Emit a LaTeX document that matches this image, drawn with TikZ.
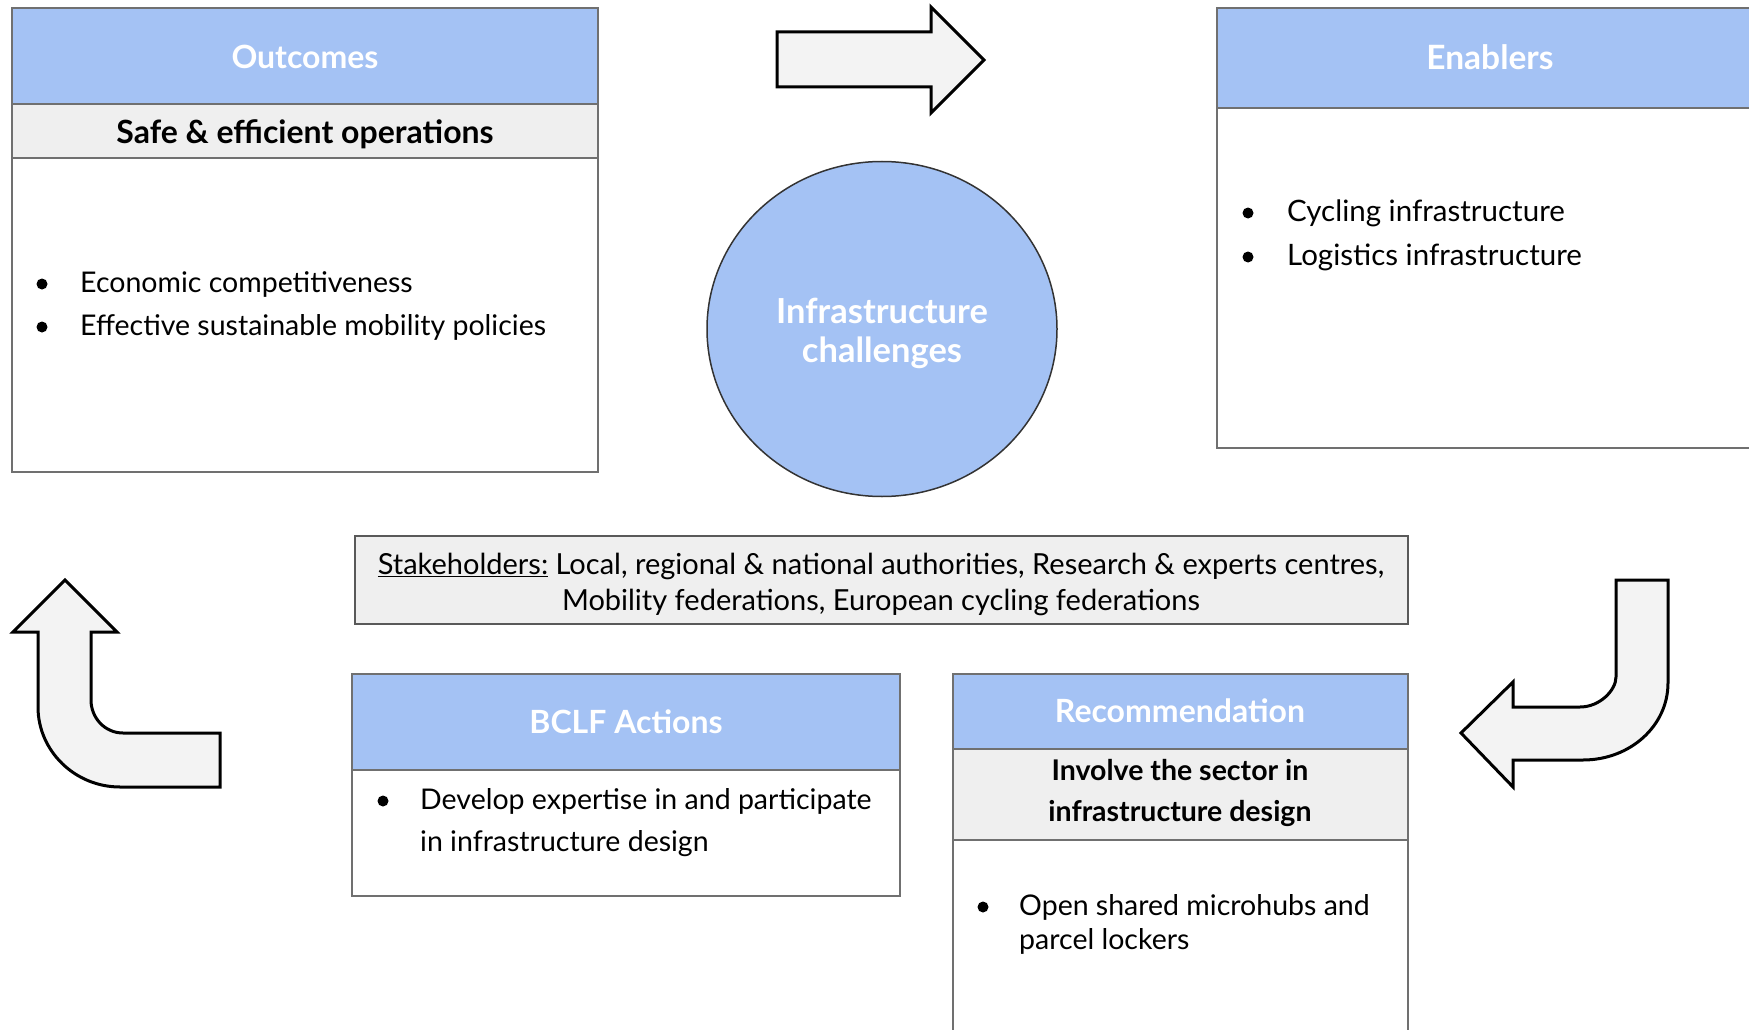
\documentclass[tikz,border=0pt]{standalone}
\usepackage{fontspec}
\setmainfont{Lato}
\usetikzlibrary{shapes.geometric}
\definecolor{hdrblue}{HTML}{A4C2F4}
\definecolor{subgrey}{HTML}{EFEFEF}
\definecolor{arrowfill}{HTML}{F3F3F3}
\definecolor{boxline}{HTML}{707070}
\begin{document}
\begin{tikzpicture}[x=1pt,y=-1pt,
  box/.style={draw=boxline, line width=2pt, fill=white},
  hdr/.style={draw=boxline, line width=2pt, fill=hdrblue},
  sub/.style={draw=boxline, line width=2pt, fill=subgrey},
  htext/.style={text=white, font=\fontsize{32}{38}\selectfont\bfseries, anchor=mid, inner sep=0pt},
  stext/.style={text=black, font=\fontsize{28.5}{34}\selectfont\bfseries, anchor=mid, inner sep=0pt},
  btext/.style={font=\fontsize{28.5}{34}\selectfont, anchor=mid west, inner sep=0pt},
  bul/.style={circle, fill=black, minimum size=11pt, inner sep=0pt},
  bigarrow/.style={draw=black, line width=3pt, fill=arrowfill, line join=miter}
]
\path[use as bounding box] (0,0) rectangle (1749,1030);
\clip (0,0) rectangle (1749,1030);
\fill[white] (0,0) rectangle (1749,1030);

% Outcomes
\draw[box] (12,8) rectangle (598,472);
\draw[hdr] (12,8) rectangle (598,104);
\draw[sub] (12,104) rectangle (598,158);
\node[htext] (outT) at (305,66) {Outcomes};
\node[stext, font=\fontsize{32}{38}\selectfont\bfseries] (outS) at (305,141) {Safe \& efficient operations};
\node[bul] (ob1) at (42,284) {};
\node[btext] (ot1) at (80,290) {Economic competitiveness};
\node[bul] (ob2) at (42,327) {};
\node[btext] (ot2) at (80,333) {Effective sustainable mobility policies};

% Enablers
\draw[box] (1217,8) rectangle (1770,448);
\draw[hdr] (1217,8) rectangle (1770,108);
\node[htext, font=\fontsize{33.5}{40}\selectfont\bfseries] (enT) at (1490,67) {Enablers};
\node[bul] (eb1) at (1248,213) {};
\node[btext, font=\fontsize{29.5}{35}\selectfont] (et1) at (1287,219) {Cycling infrastructure};
\node[bul] (eb2) at (1248,257) {};
\node[btext, font=\fontsize{29.5}{35}\selectfont] (et2) at (1287,263) {Logistics infrastructure};

% Circle
\node[ellipse, draw=black!80, line width=1.5pt, fill=hdrblue, minimum width=350pt, minimum height=335pt] (circ) at (882,329) {};
\node[align=center, text=white, font=\fontsize{34.5}{39}\selectfont\bfseries, inner sep=0pt] (circT) at (882,333)
  {Infrastructure\\challenges};

% Stakeholders
\draw[sub, draw=black!65] (355,536) rectangle (1408,624);
\node[font=\fontsize{29}{34}\selectfont, anchor=mid, inner sep=0pt] (st1) at (881,572)
  {\underline{Stakeholders:} Local, regional \& national authorities, Research \& experts centres,};
\node[font=\fontsize{29}{34}\selectfont, anchor=mid, inner sep=0pt] (st2) at (881,608)
  {Mobility federations, European cycling federations};

% BCLF Actions
\draw[box] (352,674) rectangle (900,896);
\draw[hdr] (352,674) rectangle (900,770);
\node[htext] (bcT) at (626,731) {BCLF Actions};
\node[bul] (bb1) at (383,801) {};
\node[btext] (bt1) at (420,807) {Develop expertise in and participate};
\node[btext] (bt2) at (420,849) {in infrastructure design};

% Recommendation
\draw[box] (953,674) rectangle (1408,1045);
\draw[hdr] (953,674) rectangle (1408,749);
\draw[sub] (953,749) rectangle (1408,840);
\node[htext] (reT) at (1180,720) {Recommendation};
\node[stext] (reS1) at (1180,778) {Involve the sector in};
\node[stext] (reS2) at (1180,819) {infrastructure design};
\node[bul] (rb1) at (983,907) {};
\node[btext] (rt1) at (1019,913) {Open shared microhubs and};
\node[btext] (rt2) at (1019,947) {parcel lockers};

% Top arrow
\draw[bigarrow] (777,32) -- (931,32) -- (931,7) -- (984,60) -- (931,113) -- (931,87) -- (777,87) -- cycle;

% Left (up) arrow
\draw[bigarrow] (220,733) -- (123,733) .. controls (105,733) and (91,718) .. (91,700) -- (91,632) -- (117,632)
  -- (65,580) -- (13,632) -- (38,632) -- (38,707) .. controls (38,751) and (75,787) .. (120,787) -- (220,787) -- cycle;

% Right (down-left) arrow
\draw[bigarrow] (1616,580) -- (1668,580) -- (1668,683) .. controls (1668,726) and (1630,760) .. (1583,760)
  -- (1513,760) -- (1513,787) -- (1461,733) -- (1513,682) -- (1513,707) -- (1580,707)
  .. controls (1600,707) and (1616,690) .. (1616,677) -- cycle;
\end{tikzpicture}
\end{document}
